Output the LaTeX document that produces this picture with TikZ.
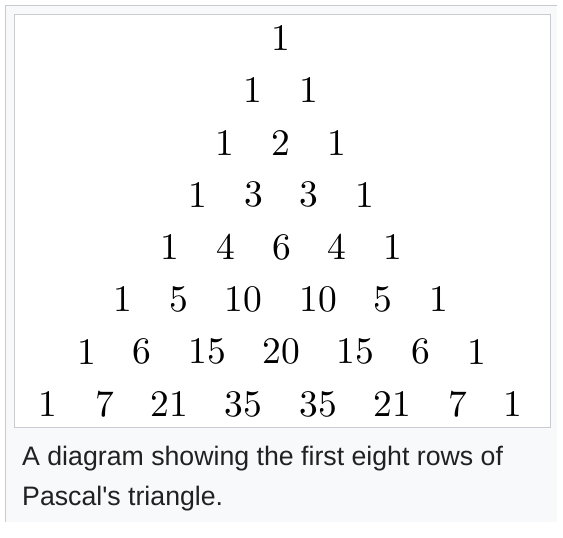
\documentclass[tikz,border=0pt]{standalone}
\usepackage{fontspec}
\newfontfamily\capfont{Liberation Sans}
\newfontfamily\digitfont{lmroman10-regular}[Extension=.otf]
\definecolor{framebg}{HTML}{F8F9FA}
\definecolor{frameline}{HTML}{C8CCD1}
\definecolor{captext}{HTML}{202122}
\begin{document}
\begin{tikzpicture}[x=1pt,y=-1pt,
  entry/.style={inner sep=0pt,anchor=center,font=\digitfont\fontsize{37.5}{37.5}\selectfont},
  captxt/.style={inner sep=0pt,anchor=base west,text=captext,font=\capfont\fontsize{26.7}{26.7}\selectfont}]
\useasboundingbox (0,0) rectangle (563,538);
\fill[white] (0,0) rectangle (563,538);
% outer thumbnail frame
\fill[framebg] (5,5) rectangle (557,522);
\draw[frameline,line width=1pt] (5,522) -- (5,5) -- (557,5);
% inner image box
\draw[frameline,fill=white,line width=1pt] (14,14) rectangle (550,427);
% rows of Pascal's triangle
\foreach \x/\v [count=\k] in {281/1}
  \node[entry] (a1-\k) at (\x,38) {\v};
\foreach \x/\v [count=\k] in {253/1,309/1}
  \node[entry] (a2-\k) at (\x,90.3) {\v};
\foreach \x/\v [count=\k] in {225/1,281/2,337/1}
  \node[entry] (a3-\k) at (\x,142.6) {\v};
\foreach \x/\v [count=\k] in {197.5/1,253.5/3,309/3,364.5/1}
  \node[entry] (a4-\k) at (\x,194.9) {\v};
\foreach \x/\v [count=\k] in {170/1,225.5/4,281.5/6,337/4,393/1}
  \node[entry] (a5-\k) at (\x,247.2) {\v};
\foreach \x/\v [count=\k] in {123/1,178.5/5,243.5/10,318/10,383/5,439/1}
  \node[entry] (a6-\k) at (\x,299.5) {\v};
\foreach \x/\v [count=\k] in {86.5/1,142/6,207/15,281/20,355/15,421/6,476.5/1}
  \node[entry] (a7-\k) at (\x,351.8) {\v};
\foreach \x/\v [count=\k] in {48/1,105/7,169.5/21,243.5/35,318/35,392.5/21,458/7,513/1}
  \node[entry] (a8-\k) at (\x,404) {\v};
% caption
\node[captxt] (cap1) at (22,465.5) {A diagram showing the first eight rows of};
\node[captxt] (cap2) at (22,505) {Pascal's triangle.};
\end{tikzpicture}
\end{document}
